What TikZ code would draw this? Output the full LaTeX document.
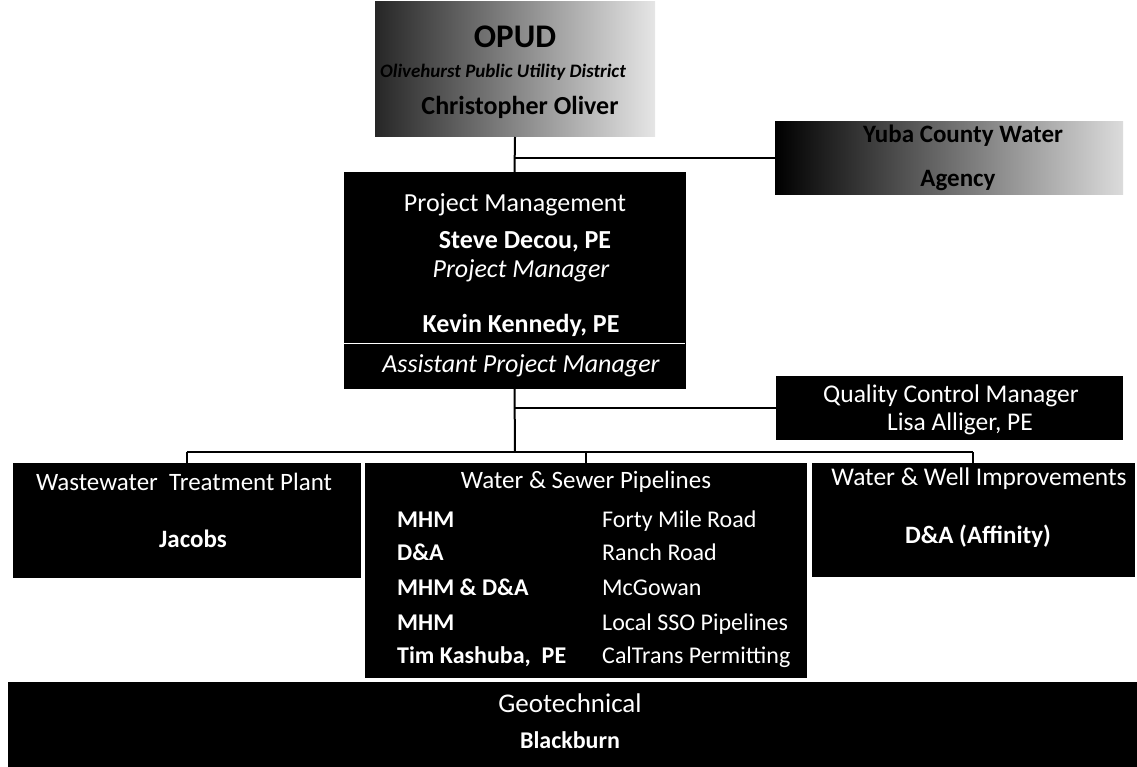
\documentclass[tikz,border=0pt]{standalone}
\usepackage{fontspec}
\setmainfont{Carlito}
\newcommand\myfs[1]{\fontsize{#1}{#1}\selectfont}
\begin{document}
\begin{tikzpicture}[x=1pt,y=-1pt,
  box/.style={fill=black, draw=black, line width=0.6pt, inner sep=0pt, outer sep=0pt, anchor=north west},
  gbox/.style={draw=none, inner sep=0pt, outer sep=0pt, anchor=north west},
  wt/.style={text=white, inner sep=0pt, anchor=base},
  bt/.style={text=black, inner sep=0pt, anchor=base},
  rowl/.style={text=white, inner sep=0pt, anchor=base west, font=\myfs{24}\bfseries},
  rowr/.style={text=white, inner sep=0pt, anchor=base west, font=\myfs{24}},
  conn/.style={draw=black, line width=2pt}]
\useasboundingbox (0,0) rectangle (1137,767);

% --- boxes ---
\node[gbox, minimum width=280pt, minimum height=135pt, left color=black!85, middle color=black!45, right color=black!10] (opud) at (375,2) {};
\node[gbox, minimum width=348pt, minimum height=73pt, left color=black, middle color=black!72, right color=black!14] (yuba) at (775,122) {};
\node[box, minimum width=341pt, minimum height=216pt] (pm) at (344,172) {};
\node[box, minimum width=346pt, minimum height=63pt] (qc) at (776,376) {};
\node[box, minimum width=347pt, minimum height=114pt] (wwtp) at (13,463) {};
\node[box, minimum width=441pt, minimum height=214pt] (pipe) at (365,463) {};
\node[box, minimum width=322pt, minimum height=113pt] (wwi) at (812,463) {};
\node[box, minimum width=1129pt, minimum height=85pt] (geo) at (8,682) {};

% --- texts ---
\node[bt, font=\myfs{33}\bfseries] (t-opud) at (515,48) {OPUD};
\node[bt, font=\myfs{19}\bfseries\itshape] (t-opud2) at (503,78) {Olivehurst Public Utility District};
\node[bt, font=\myfs{26}\bfseries] (t-opud3) at (520,115) {Christopher Oliver};

\node[bt, font=\myfs{25}\bfseries] (t-yuba1) at (963,143) {Yuba County Water};
\node[bt, font=\myfs{25}\bfseries] (t-yuba2) at (958,187) {Agency};

\node[wt, font=\myfs{26}] (t-pm1) at (515,212) {Project Management};
\node[wt, font=\myfs{26}\bfseries] (t-pm2) at (525,248) {Steve Decou, PE};
\node[wt, font=\myfs{26}\itshape] (t-pm3) at (521,277) {Project Manager};
\node[wt, font=\myfs{26}\bfseries] (t-pm4) at (521,332) {Kevin Kennedy, PE};
\node[wt, font=\myfs{26}\itshape] (t-pm5) at (521,372) {Assistant Project Manager};
\coordinate (sep) at (0,343);
\draw[white, line width=0.8pt] (pm.west |- sep) -- (pm.east |- sep);

\node[wt, font=\myfs{25.5}] (t-qc1) at (951,402) {Quality Control Manager};
\node[wt, font=\myfs{25.5}] (t-qc2) at (960,430) {Lisa Alliger, PE};

\node[wt, font=\myfs{25}] (t-ww1) at (184,490) {Wastewater\ \ Treatment Plant};
\node[wt, font=\myfs{25}\bfseries] (t-ww2) at (193,547) {Jacobs};

\node[wt, font=\myfs{25}] (t-pp) at (586,488) {Water \& Sewer Pipelines};
\node[rowl] (l1) at (397,527) {MHM};
\node[rowl] (l2) at (397,560) {D\&A};
\node[rowl] (l3) at (397,595) {MHM \& D\&A};
\node[rowl] (l4) at (397,630) {MHM};
\node[rowl] (l5) at (397,663) {Tim Kashuba,\ \ PE};
\node[rowr] (r1) at (602,527) {Forty Mile Road};
\node[rowr] (r2) at (602,560) {Ranch Road};
\node[rowr] (r3) at (602,595) {McGowan};
\node[rowr] (r4) at (602,630) {Local SSO Pipelines};
\node[rowr] (r5) at (602,663) {CalTrans Permitting};

\node[wt, font=\myfs{25.5}] (t-wi1) at (979,485) {Water \& Well Improvements};
\node[wt, font=\myfs{25}\bfseries] (t-wi2) at (978,543) {D\&A (Affinity)};

\node[wt, font=\myfs{27}] (t-g1) at (570,712) {Geotechnical};
\node[wt, font=\myfs{24}\bfseries] (t-g2) at (570,748) {Blackburn};

% --- connectors ---
\coordinate (bus) at (515,452);
\draw[conn] (opud.south) -- (pm.north);
\draw[conn] (opud.south |- yuba.west) -- (yuba.west);
\draw[conn] (pm.south) -- (bus);
\draw[conn] (pm.south |- qc.west) -- (qc.west);
\draw[conn] (wwtp.north |- bus) -- (wwi.north |- bus);
\draw[conn] (wwtp.north |- bus) -- (wwtp.north);
\draw[conn] (pipe.north |- bus) -- (pipe.north);
\draw[conn] (wwi.north |- bus) -- (wwi.north);
\end{tikzpicture}
\end{document}
